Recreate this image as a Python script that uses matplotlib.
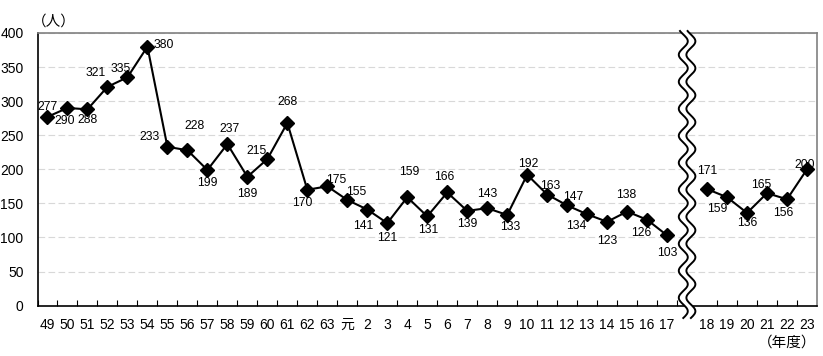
import numpy as np
import matplotlib
matplotlib.use("Agg")
import matplotlib.pyplot as plt
from matplotlib.transforms import IdentityTransform
from matplotlib.patches import Polygon
from matplotlib.lines import Line2D

plt.rcParams['font.family'] = ['Liberation Sans', 'Noto Sans CJK JP']

# data
labels_a = ['49', '50', '51', '52', '53', '54', '55', '56', '57', '58', '59', '60',
            '61', '62', '63', '元', '2', '3', '4', '5', '6', '7', '8', '9', '10',
            '11', '12', '13', '14', '15', '16', '17']
values_a = [277, 290, 288, 321, 335, 380, 233, 228, 199, 237, 189, 215,
            268, 170, 175, 155, 141, 121, 159, 131, 166, 139, 143, 133, 192,
            163, 147, 134, 123, 138, 126, 103]
labels_b = ['18', '19', '20', '21', '22', '23']
values_b = [171, 159, 136, 165, 156, 200]

# label offsets in pixels (dx right, dy up)
offs_a = [(0, 10), (-3, -13), (0, -11), (-12, 14), (-7, 8), (16, 2), (-18, 10), (7, 24),
          (0, -13), (2, 15), (0, -17), (-11, 8), (0, 21), (-5, -13), (9, 6), (9, 8),
          (-4, -16), (0, -15), (2, 25), (1, -14), (-3, 15), (0, -13), (0, 14), (3, -12),
          (1, 11), (3, 9), (6, 8), (-11, -12), (0, -19), (-1, 17), (-6, -13), (0, -18)]
offs_b = [(0, 18), (-10, -12), (0, -10), (-6, 8), (-4, -14), (-2, 4)]

W, H = 823, 356
fig = plt.figure(figsize=(W / 100, H / 100), dpi=100)
ax = fig.add_axes([37.5 / W, 1 - 305.6 / H, (817 - 37.5) / W, (305.6 - 33) / H])

xa = np.arange(len(values_a))
xb = np.arange(len(values_b)) + len(values_a) + 1
for xs, ys, offs in [(xa, values_a, offs_a), (xb, values_b, offs_b)]:
    ax.plot(xs, ys, color='black', lw=1.5, marker='D', ms=7, zorder=3)
    for x, y, (dx, dy) in zip(xs, ys, offs):
        ax.annotate(str(y), (x, y), xytext=(dx, dy), textcoords='offset pixels',
                    ha='center', va='center', fontsize=8.7, zorder=4)

ax.set_xlim(-0.5, 38.5)
ax.set_ylim(0, 400)
ax.set_yticks(np.arange(0, 401, 50))
ax.set_xticks(np.concatenate([xa, xb]))
ax.set_xticklabels(labels_a + labels_b)
ax.set_xticks([i + 0.5 for i in range(-1, 38) if i != 32], minor=True)
ax.tick_params(axis='x', which='major', length=0, pad=9, labelsize=10)
ax.tick_params(axis='x', which='minor', direction='in', length=4, width=0.8)
ax.tick_params(axis='y', length=0, pad=10, labelsize=10)
ax.yaxis.grid(True, color='#d8d8d8', ls=(0, (6, 3)), lw=0.8)
ax.set_axisbelow(True)
for s in ['left', 'bottom']:
    ax.spines[s].set_color('black')
    ax.spines[s].set_linewidth(1.2)
for s in ['top', 'right']:
    ax.spines[s].set_color('#808080')
    ax.spines[s].set_linewidth(1.2)

fig.text(32 / W, 1 - 22 / H, '（人）', fontsize=10.5, ha='left', va='center')
fig.text(787 / W, 1 - 343 / H, '（年度）', fontsize=10.5, ha='center', va='center')

# wavy break mark
fig.canvas.draw()
xc = ax.transData.transform((len(values_a), 0))[0]
yy = np.linspace(H - 318, H - 31, 300)
wave = 4.5 * np.sin((yy - yy[0]) * 2 * np.pi / 27)
left = xc - 3.8 + wave
right = xc + 3.8 + wave
poly = np.column_stack([np.concatenate([left, right[::-1]]), np.concatenate([yy, yy[::-1]])])
fig.add_artist(Polygon(poly, closed=True, facecolor='white', edgecolor='none',
                       transform=IdentityTransform(), zorder=5))
fig.add_artist(Line2D(left, yy, color='black', lw=1.4, transform=IdentityTransform(), zorder=6))
fig.add_artist(Line2D(right, yy, color='black', lw=1.4, transform=IdentityTransform(), zorder=6))

fig.savefig('out.png', dpi=100)
